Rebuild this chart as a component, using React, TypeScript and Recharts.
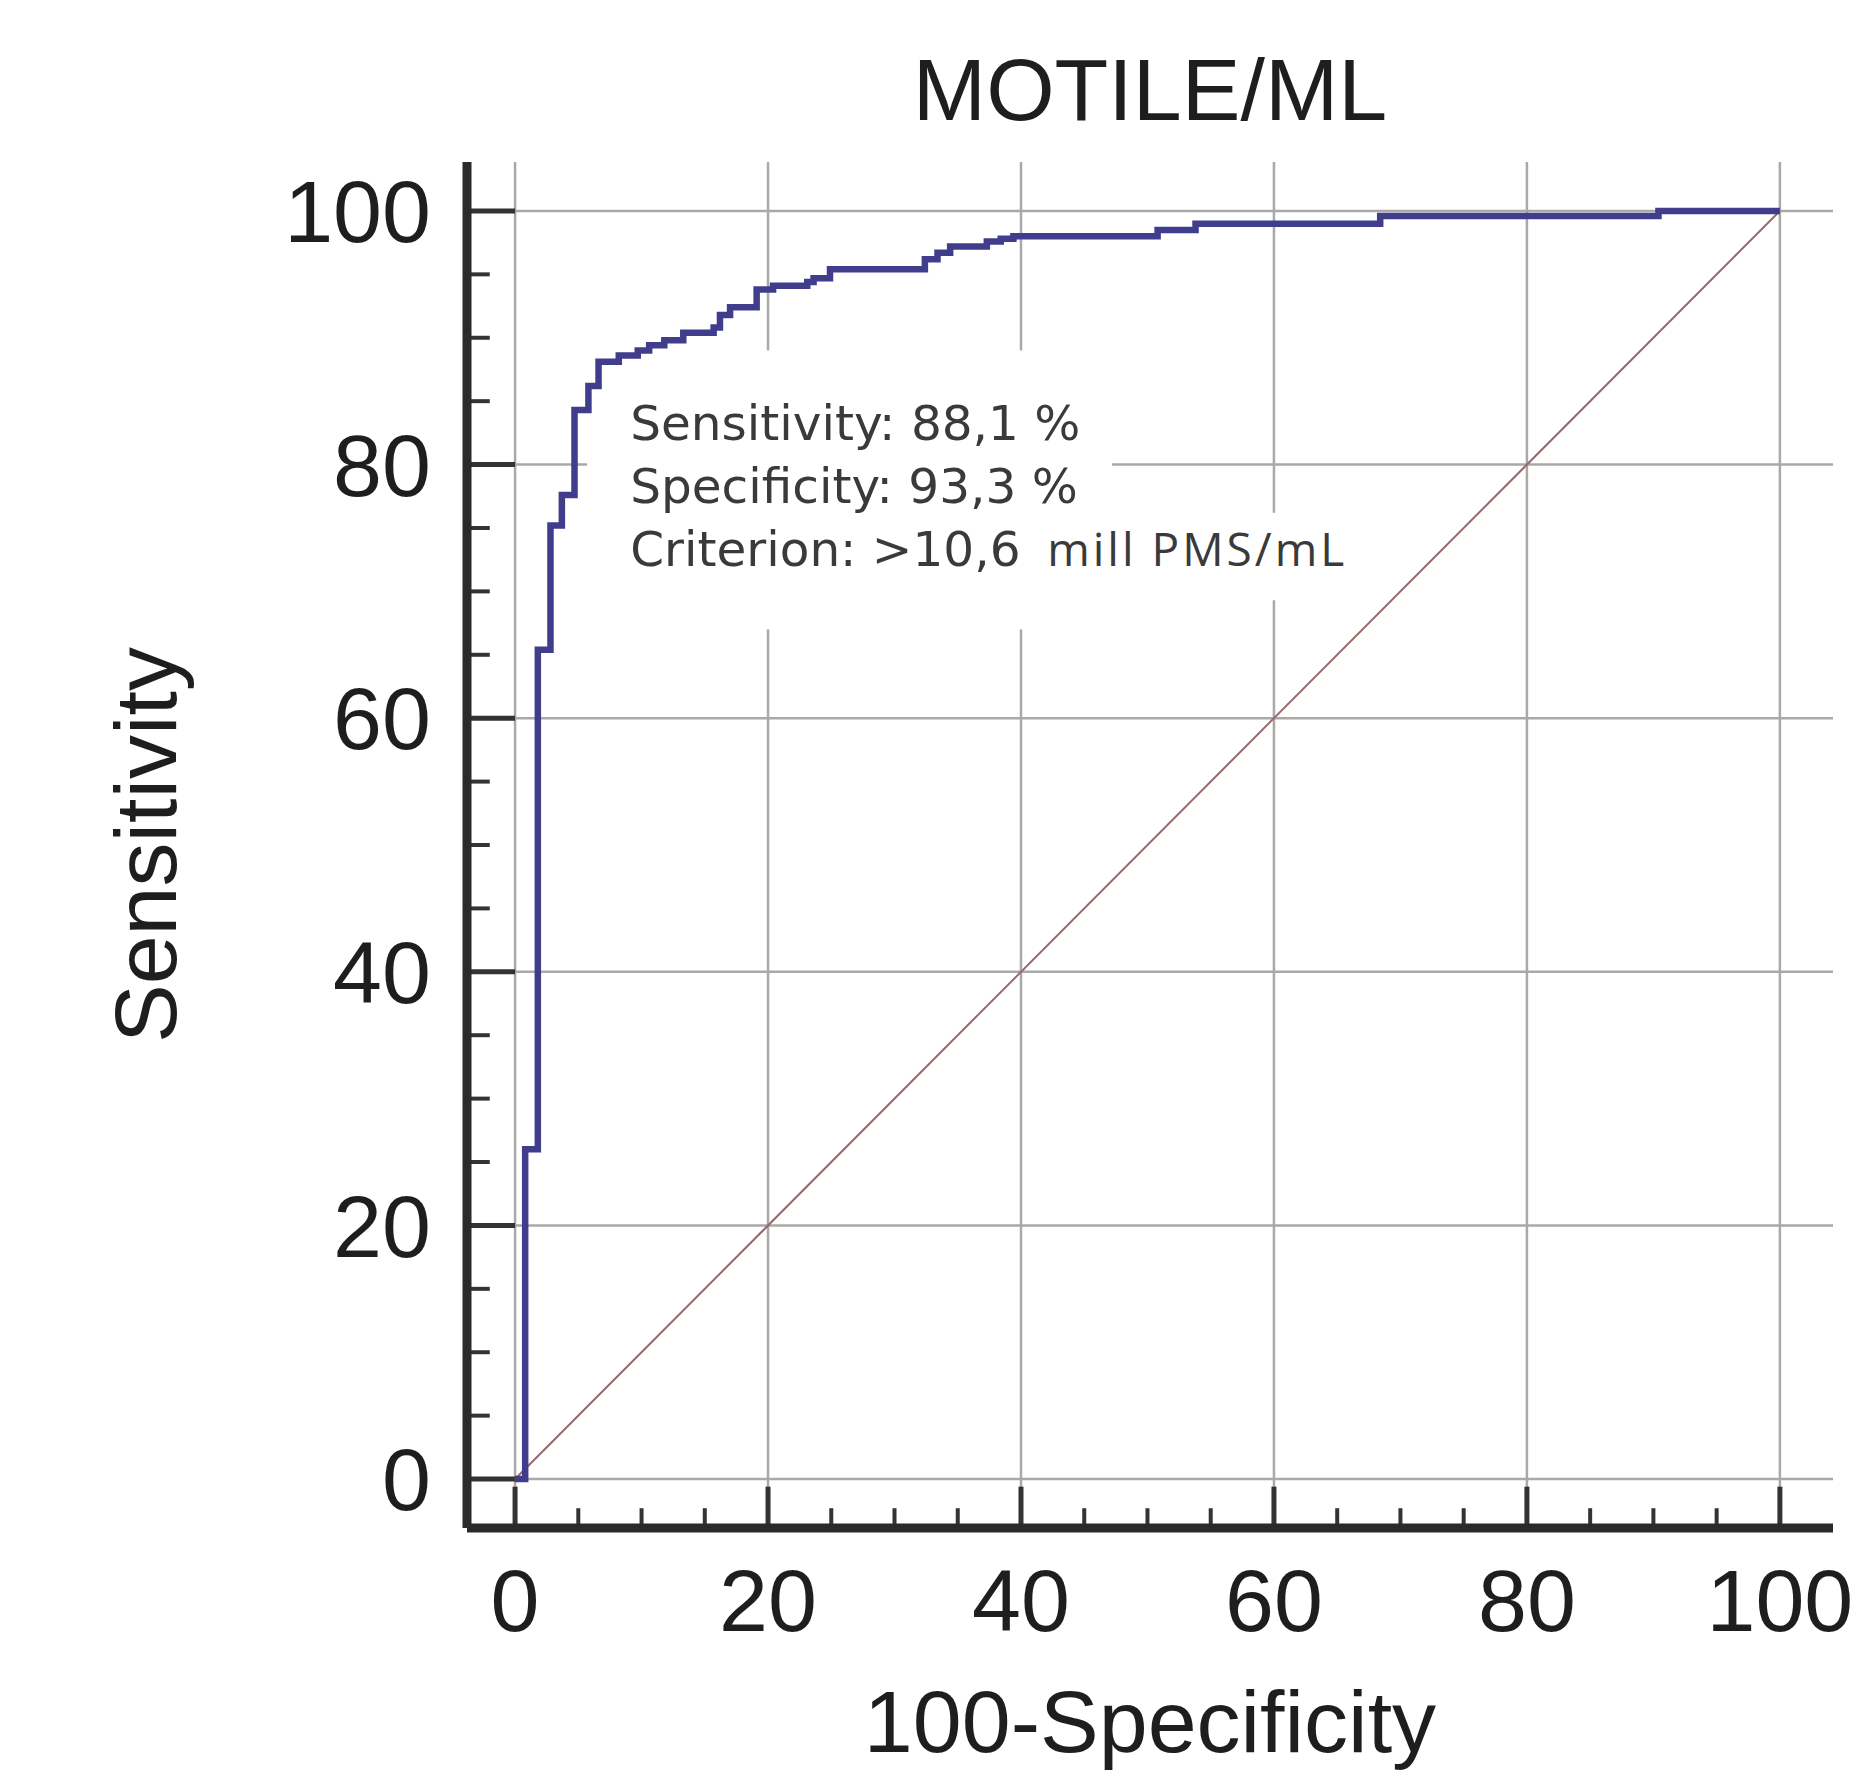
import React from 'react';
import { LineChart, Line, XAxis, YAxis, CartesianGrid, ReferenceLine, ReferenceArea } from 'recharts';

// ROC steps (stepBefore: rise at previous x, then run to this x)
const rocFpr = [0, 0.8, 1.8, 2.8, 3.7, 4.7, 5.8, 6.6, 8.2, 9.7, 10.6, 11.8, 13.3, 15.7, 16.2, 17.0, 19.1, 20.4, 23.1, 23.6, 24.9, 32.4, 33.4, 34.4, 37.3, 38.4, 39.4, 50.8, 53.8, 68.4, 90.4, 100];
const rocTpr = [0, 0, 26.0, 65.4, 75.2, 77.6, 84.3, 86.2, 88.1, 88.6, 89.0, 89.4, 89.8, 90.4, 90.8, 91.8, 92.4, 93.8, 94.1, 94.4, 94.7, 95.4, 96.2, 96.7, 97.2, 97.6, 97.8, 98.0, 98.5, 99.0, 99.6, 100];

const chanceFpr = [0, 100];
const chanceTpr = [0, 100];

const majorTicks = [0, 20, 40, 60, 80, 100];
const minorTicks = [5, 10, 15, 25, 30, 35, 45, 50, 55, 65, 70, 75, 85, 90, 95];

const annotationLines = ['Sensitivity: 88,1 %', 'Specificity: 93,3 %', 'Criterion: >10,6'];
const criterionUnit = 'mill PMS/mL';

const rocData = rocFpr.map((x, i) => ({ x, y: rocTpr[i] }));
const chanceData = chanceFpr.map((x, i) => ({ x, y: chanceTpr[i] }));

const X_DOMAIN: [number, number] = [-3.8, 104.2];
const Y_DOMAIN: [number, number] = [-3.86, 103.86];

const FONT = "'Liberation Sans', Arial, sans-serif";
const TEXT = '#1e1e1e';
const TICK = '#333333';

const AnnotationBox = (props: any) => {
  const { x, y, width, height } = props;
  return (
    <g>
      <rect x={x} y={y} width={width} height={height} fill="#ffffff" />
      {annotationLines.map((line, i) => (
        <text
          key={line}
          x={x + 43}
          y={y + 90 + i * 63}
          fontFamily="'DejaVu Sans', Verdana, sans-serif"
          fontSize={48.5}
          fill="#3a3a3a"
        >
          {line}
        </text>
      ))}
      <text x={x + 460} y={y + 216} fontFamily="'Open Sans', sans-serif" fontSize={46} letterSpacing={3} fill="#3a3a3a">
        {criterionUnit}
      </text>
    </g>
  );
};

export default function App() {
  return (
    <div style={{ position: 'relative', width: 1847, height: 1762, background: '#fff' }}>
      <div
        style={{
          position: 'absolute',
          left: 459,
          width: 1366,
          top: 38,
          textAlign: 'center',
          fontFamily: FONT,
          fontSize: 88,
          lineHeight: '88px',
          color: TEXT,
        }}
      >
        MOTILE/ML
      </div>
      <LineChart width={1847} height={1762} margin={{ top: 154, right: 22, bottom: 0, left: 0 }}>
        <CartesianGrid
          stroke="#a9a9a9"
          strokeWidth={2.5}
          horizontalValues={majorTicks}
          verticalValues={majorTicks}
        />
        <XAxis
          dataKey="x"
          type="number"
          domain={X_DOMAIN}
          allowDataOverflow
          ticks={majorTicks}
          height={242}
          tickSize={0}
          tickMargin={41}
          tickLine={false}
          axisLine={{ stroke: '#2a2a2a', strokeWidth: 9 }}
          tick={{ fontSize: 88, fill: TEXT, fontFamily: FONT }}
          label={{ value: '100-Specificity', position: 'insideBottom', offset: 18, fontSize: 88, fill: TEXT, fontFamily: FONT }}
        />
        <YAxis
          dataKey="y"
          type="number"
          domain={Y_DOMAIN}
          allowDataOverflow
          ticks={majorTicks}
          width={459}
          tickSize={0}
          tickMargin={36}
          tickLine={false}
          axisLine={{ stroke: '#2a2a2a', strokeWidth: 9 }}
          tick={{ fontSize: 88, fill: TEXT, fontFamily: FONT }}
          label={{
            value: 'Sensitivity',
            angle: -90,
            position: 'insideLeft',
            offset: 137,
            fontSize: 88,
            fill: TEXT,
            fontFamily: FONT,
            style: { textAnchor: 'middle' },
          }}
        />

        {minorTicks.map((v) => (
          <ReferenceLine key={'xm' + v} ifOverflow="visible" segment={[{ x: v, y: Y_DOMAIN[0] }, { x: v, y: -2.3 }]} stroke={TICK} strokeWidth={4} />
        ))}
        {majorTicks.map((v) => (
          <ReferenceLine key={'xM' + v} ifOverflow="visible" segment={[{ x: v, y: Y_DOMAIN[0] }, { x: v, y: -0.6 }]} stroke={TICK} strokeWidth={5} />
        ))}
        {minorTicks.map((v) => (
          <ReferenceLine key={'ym' + v} ifOverflow="visible" segment={[{ x: X_DOMAIN[0], y: v }, { x: -2.0, y: v }]} stroke={TICK} strokeWidth={4} />
        ))}
        {majorTicks.map((v) => (
          <ReferenceLine key={'yM' + v} ifOverflow="visible" segment={[{ x: X_DOMAIN[0], y: v }, { x: 0, y: v }]} stroke={TICK} strokeWidth={5} />
        ))}

        <ReferenceArea x1={41.5} x2={67.5} y1={69.3} y2={76.2} fill="#ffffff" fillOpacity={1} stroke="none" />
        <ReferenceArea x1={5.7} x2={47.2} y1={67.0} y2={89.0} shape={<AnnotationBox />} />

        <Line data={chanceData} dataKey="y" type="linear" stroke="#9b6666" strokeWidth={2} dot={false} isAnimationActive={false} />
        <Line data={rocData} dataKey="y" type="stepBefore" stroke="#403d8c" strokeWidth={6.5} dot={false} isAnimationActive={false} />
      </LineChart>
    </div>
  );
}
